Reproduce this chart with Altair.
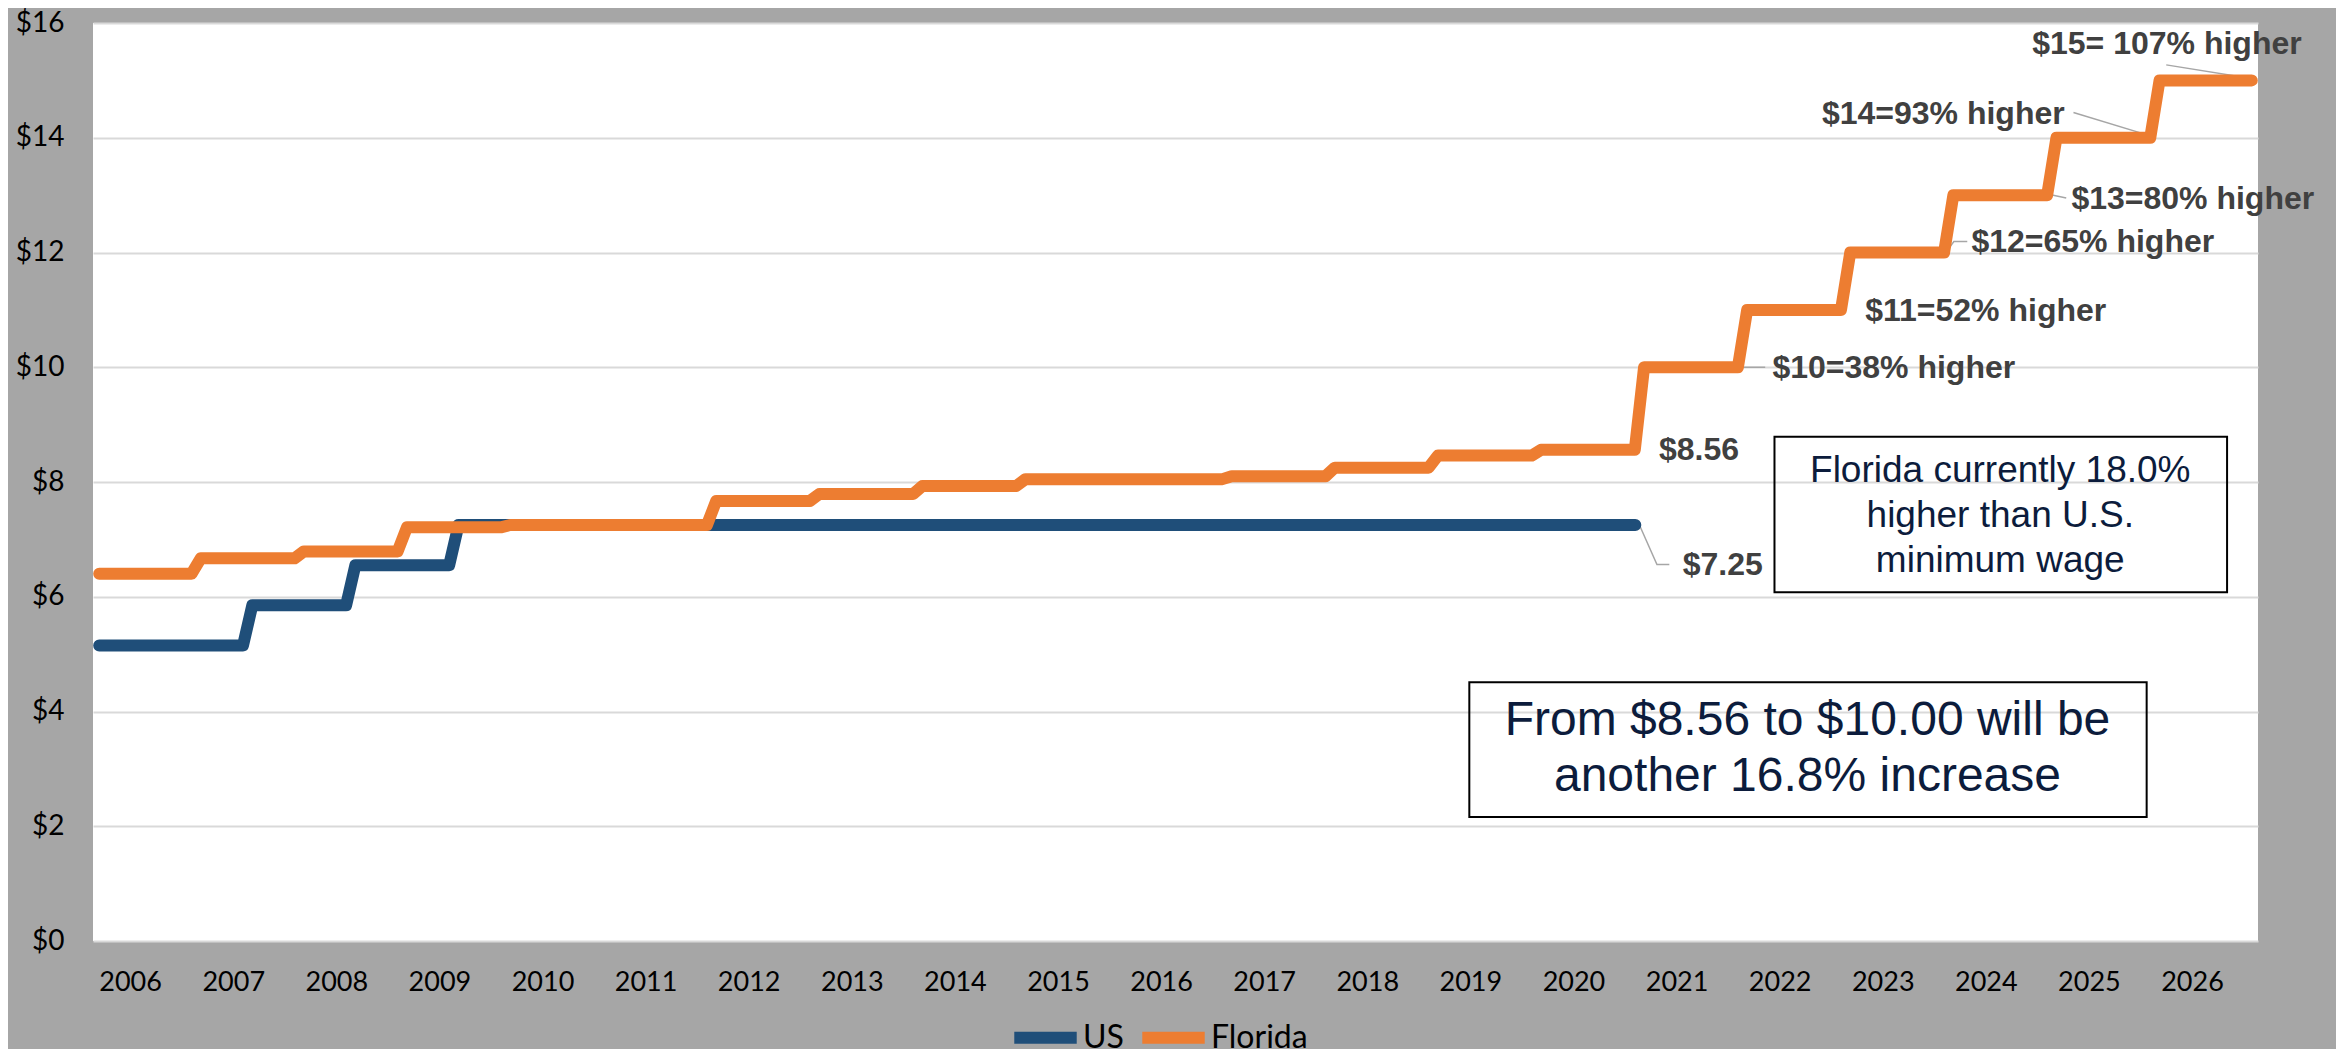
import altair as alt
import pandas as pd

# ---------------- data ----------------
years = list(range(2006, 2027))          # x tick labels
label_pos = 0.36                          # labels sit a bit into each year

series_names = ["US", "Florida"]
series_colors = ["#1F4E79", "#ED7D31"]

# minimum wage: time of change (fractional year) and new value
us_change = [2006.06, 2007.5, 2008.5, 2009.5]
us_wage = [5.15, 5.85, 6.55, 7.25]
us_end = 2020.96

fl_change = [2006.06, 2007.0, 2008.0, 2009.0, 2010.0, 2012.0, 2013.0, 2014.0,
             2015.0, 2017.0, 2018.0, 2019.0, 2020.0, 2021.0, 2022.0, 2023.0,
             2024.0, 2025.0, 2026.0]
fl_wage = [6.40, 6.67, 6.79, 7.21, 7.25, 7.67, 7.79, 7.93,
           8.05, 8.10, 8.25, 8.46, 8.56, 10.00, 11.00, 12.00,
           13.00, 14.00, 15.00]
fl_end = 2026.94

ramp = 0.045   # half of the one-month transition between monthly points

# callout labels (left edge x, centre y)
callout_text = ["$15= 107% higher", "$14=93% higher", "$13=80% higher",
                "$12=65% higher", "$11=52% higher", "$10=38% higher",
                "$8.56", "$7.25"]
callout_x = [2024.81, 2022.77, 2025.19, 2024.22, 2023.19, 2022.29, 2021.19, 2021.42]
callout_y = [15.64, 14.42, 12.94, 12.18, 10.98, 9.99, 8.55, 6.55]

# leader lines: id, x, y
leader_id = ["a", "a", "b", "b", "c", "c", "d", "d", "d", "e", "e", "f", "f", "f"]
leader_x = [2026.11, 2026.98, 2025.21, 2025.98, 2024.98, 2025.14,
            2023.98, 2024.05, 2024.18, 2021.97, 2022.22, 2021.0, 2021.17, 2021.29]
leader_y = [15.27, 15.02, 14.44, 14.02, 13.01, 12.95,
            12.02, 12.19, 12.19, 10.0, 10.0, 7.25, 6.56, 6.56]

# text boxes
box_x1 = [2022.31, 2019.35]
box_x2 = [2026.70, 2025.92]
box_y1 = [6.08, 2.16]
box_y2 = [8.79, 4.51]

box1_lines = ["Florida currently 18.0%", "higher than U.S.", "minimum wage"]
box1_x = [2024.50, 2024.50, 2024.50]
box1_y = [8.19, 7.40, 6.62]

box2_lines = ["From $8.56 to $10.00 will be", "another 16.8% increase"]
box2_x = [2022.63, 2022.63]
box2_y = [3.83, 2.86]


def steps(name, change, wage, end):
    pts = [(change[0], wage[0])]
    for i in range(1, len(change)):
        pts.append((change[i] - ramp, wage[i - 1]))
        pts.append((change[i] + ramp, wage[i]))
    pts.append((end, wage[-1]))
    return pd.DataFrame({"series": name, "t": [p[0] for p in pts],
                         "wage": [p[1] for p in pts]})


us_df = steps("US", us_change, us_wage, us_end)
fl_df = steps("Florida", fl_change, fl_wage, fl_end)
callout_df = pd.DataFrame({"label": callout_text, "x": callout_x, "y": callout_y})
leader_df = pd.DataFrame({"id": leader_id, "x": leader_x, "y": leader_y,
                          "k": list(range(len(leader_x)))})
box_df = pd.DataFrame({"x1": box_x1, "x2": box_x2, "y1": box_y1, "y2": box_y2})
box1_df = pd.DataFrame({"label": box1_lines, "x": box1_x, "y": box1_y})
box2_df = pd.DataFrame({"label": box2_lines, "x": box2_x, "y": box2_y})

# ---------------- scales / axes ----------------
xscale = alt.Scale(domain=[2006, 2027], nice=False, zero=False)
yscale = alt.Scale(domain=[0, 16], nice=False, zero=True)

xaxis = alt.Axis(values=[y + label_pos for y in years],
                 labelExpr="'' + floor(datum.value)",
                 title=None, grid=False, ticks=False, domain=False,
                 labelFont="Lato", labelFontSize=27, labelColor="#000000",
                 labelPadding=41, labelBaseline="middle", labelAngle=0)
yaxis = alt.Axis(values=list(range(0, 17, 2)),
                 labelExpr="'$' + datum.value",
                 title=None, grid=True, gridColor="#D9D9D9", gridWidth=2,
                 ticks=False, domain=False,
                 labelFont="Lato", labelFontSize=28, labelColor="#000000",
                 labelPadding=29)


def X(f):
    return alt.X(f, type="quantitative", scale=xscale, axis=xaxis)


def Y(f):
    return alt.Y(f, type="quantitative", scale=yscale, axis=yaxis)


color = alt.Color("series:N",
                  scale=alt.Scale(domain=series_names, range=series_colors),
                  legend=alt.Legend(orient="none", legendX=915, legendY=977,
                                    direction="horizontal", title=None,
                                    symbolType="stroke", symbolStrokeWidth=12,
                                    symbolSize=3900, labelFont="Lato",
                                    labelFontSize=32, labelColor="#000000",
                                    columnPadding=-6, labelOffset=0))

boxes = alt.Chart(box_df).mark_rect(fill="white", fillOpacity=0, stroke="#000000",
                                    strokeWidth=2).encode(
    x=X("x1"), x2="x2", y=Y("y1"), y2="y2")

box1_text = alt.Chart(box1_df).mark_text(align="center", baseline="middle",
                                         font="Liberation Sans", fontSize=37,
                                         color="#0C1C3C").encode(
    x=X("x"), y=Y("y"), text="label:N")

box2_text = alt.Chart(box2_df).mark_text(align="center", baseline="middle",
                                         font="Liberation Sans", fontSize=48,
                                         color="#0C1C3C").encode(
    x=X("x"), y=Y("y"), text="label:N")

leaders = alt.Chart(leader_df).mark_line(color="#A6A6A6", strokeWidth=1.5).encode(
    x=X("x"), y=Y("y"), detail="id:N", order="k:Q")

us_line = alt.Chart(us_df).mark_line(strokeWidth=12, strokeCap="round",
                                     strokeJoin="round").encode(
    x=X("t"), y=Y("wage"), color=color)

fl_line = alt.Chart(fl_df).mark_line(strokeWidth=12, strokeCap="round",
                                     strokeJoin="round").encode(
    x=X("t"), y=Y("wage"), color=color)

callouts = alt.Chart(callout_df).mark_text(align="left", baseline="middle",
                                           font="Liberation Sans", fontWeight="bold",
                                           fontSize=32, color="#404040").encode(
    x=X("x"), y=Y("y"), text="label:N")

chart = alt.layer(boxes, box1_text, box2_text, leaders, us_line, fl_line, callouts).properties(
    width=2165, height=918,
    autosize=alt.AutoSizeParams(type="none"),
    padding={"left": 85, "top": 15, "right": 78, "bottom": 108},
    background="#A6A6A6",
).configure_view(fill="white", strokeWidth=0)

chart.save("out.html", embed_options={"renderer": "svg", "actions": False})
